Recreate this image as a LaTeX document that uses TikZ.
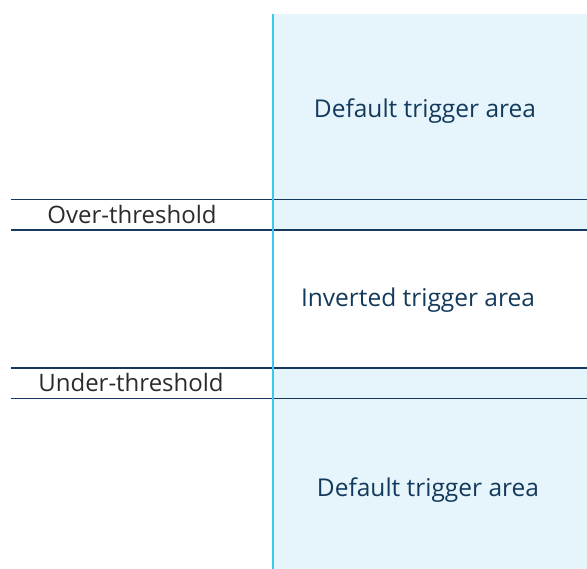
\documentclass[tikz,border=0pt]{standalone}
\usepackage{fontspec}
\setmainfont{Open Sans}
\definecolor{areafill}{HTML}{E6F4FB}
\definecolor{axiscyan}{HTML}{3CC8F0}
\definecolor{linenavy}{HTML}{16395F}
\definecolor{areatext}{HTML}{133A5C}
\definecolor{labeltext}{HTML}{2B2B2B}
\tikzset{
  arealabel/.style={text=areatext, font=\fontsize{24.5}{28}\selectfont, inner sep=0pt},
  threshlabel/.style={text=labeltext, font=\fontsize{24}{28}\selectfont, inner sep=0pt},
  threshline/.style={draw=linenavy, line width=1.8pt},
  axisline/.style={draw=axiscyan, line width=2.2pt}
}
\begin{document}
\begin{tikzpicture}[x=1pt,y=-1pt]
\useasboundingbox (0,0) rectangle (587,569);
% shaded areas
\fill[areafill] (273,14) rectangle (587,230);
\fill[areafill] (273,368) rectangle (587,569);
% threshold lines
\draw[threshline] (11,199.5) -- (587,199.5);
\draw[threshline] (11,230) -- (587,230);
\draw[threshline] (11,368) -- (587,368);
\draw[threshline] (11,398.5) -- (587,398.5);
% vertical axis
\draw[axisline] (273,14) -- (273,569);
% labels
\node[arealabel] (deftop) at (425,111) {Default trigger area};
\node[arealabel] (inv) at (418,300) {Inverted trigger area};
\node[arealabel] (defbot) at (428,490) {Default trigger area};
\node[threshlabel] (over) at (132,214.5) {Over-threshold};
\node[threshlabel] (under) at (131,383) {Under-threshold};
\end{tikzpicture}
\end{document}
